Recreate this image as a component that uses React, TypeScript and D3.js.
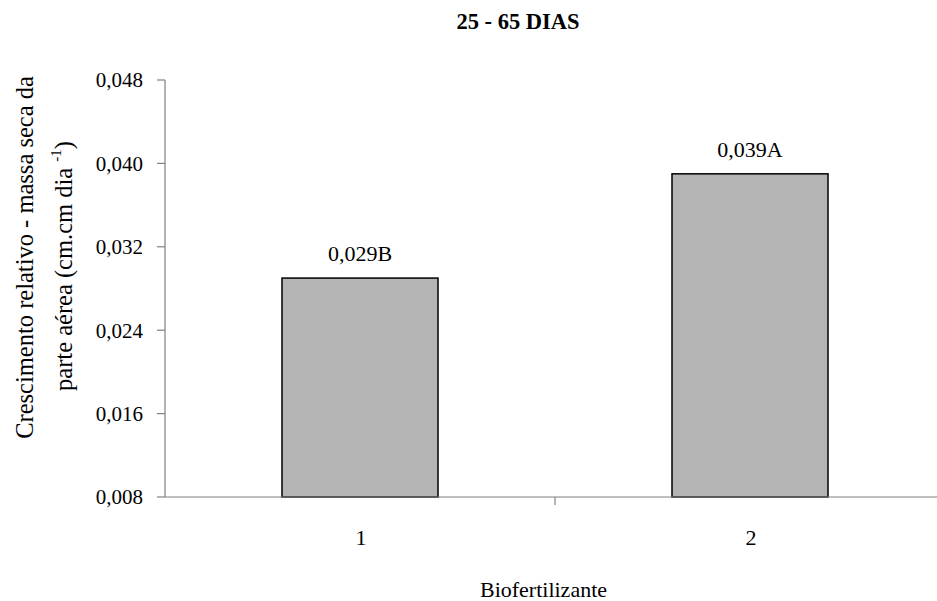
import React from "react";
import * as d3 from "d3";

// Relative growth of shoot dry mass, 25–65 days
const categories = ["1", "2"];
const values = [0.029, 0.039];
const letters = ["B", "A"];
const yTicks = [0.008, 0.016, 0.024, 0.032, 0.04, 0.048];

const W = 937;
const H = 601;
const FONT = "'Liberation Serif', 'Times New Roman', serif";

const fmt = (v: number) => d3.format(".3f")(v).replace(".", ",");

export default function App() {
  const x = d3
    .scaleBand<string>()
    .domain(categories)
    .range([165, 945])
    .paddingInner(0.6)
    .paddingOuter(0.3);
  const step = x.step();
  const y = d3.scaleLinear().domain([0.008, 0.048]).range([497, 80]);
  const [x0, x1] = [165, 945];
  const axisColor = "#808080";

  return (
    <svg
      width={W}
      height={H}
      style={{ position: "absolute", left: 0, top: 0, background: "#fff", fontFamily: FONT }}
    >
      <text x={518} y={29} textAnchor="middle" fontWeight="bold" fontSize={22.5}>
        25 - 65 DIAS
      </text>

      {/* bars */}
      {categories.map((c, i) => (
        <g key={c}>
          <rect
            x={x(c)}
            y={y(values[i])}
            width={x.bandwidth()}
            height={y(0.008) - y(values[i])}
            fill="#b4b4b4"
            stroke="#000"
            strokeWidth={1.5}
          />
          <text
            x={(x(c) as number) + x.bandwidth() / 2}
            y={y(values[i]) - 17}
            textAnchor="middle"
            fontSize={22}
          >
            {fmt(values[i]) + letters[i]}
          </text>
          <text
            x={(x(c) as number) + x.bandwidth() / 2 + 1}
            y={545}
            textAnchor="middle"
            fontSize={22}
          >
            {c}
          </text>
        </g>
      ))}

      {/* y axis */}
      <line x1={x0} x2={x0} y1={y(0.048)} y2={y(0.008)} stroke={axisColor} strokeWidth={1.2} />
      {yTicks.map((t) => (
        <g key={t}>
          <line x1={x0 - 8} x2={x0} y1={y(t)} y2={y(t)} stroke={axisColor} strokeWidth={1.2} />
          <text x={143} y={y(t)} dy="0.35em" textAnchor="end" fontSize={21}>
            {fmt(t)}
          </text>
        </g>
      ))}

      {/* x axis */}
      <line x1={x0} x2={x1} y1={y(0.008)} y2={y(0.008)} stroke={axisColor} strokeWidth={1.2} />
      {[x0 + step, x1].map((tx) => (
        <line key={tx} x1={tx} x2={tx} y1={y(0.008)} y2={y(0.008) + 8} stroke={axisColor} strokeWidth={1.2} />
      ))}

      <text x={543.5} y={597} textAnchor="middle" fontSize={22}>
        Biofertilizante
      </text>

      <text transform="translate(33, 257.5) rotate(-90)" textAnchor="middle" fontSize={24.5}>
        Crescimento relativo - massa seca da
      </text>
      <text transform="translate(72, 266) rotate(-90)" textAnchor="middle" fontSize={24.5}>
        parte aérea (cm.cm dia{" "}
        <tspan dy={-11} fontSize={15}>-1</tspan>
        <tspan dy={11}>)</tspan>
      </text>
    </svg>
  );
}
